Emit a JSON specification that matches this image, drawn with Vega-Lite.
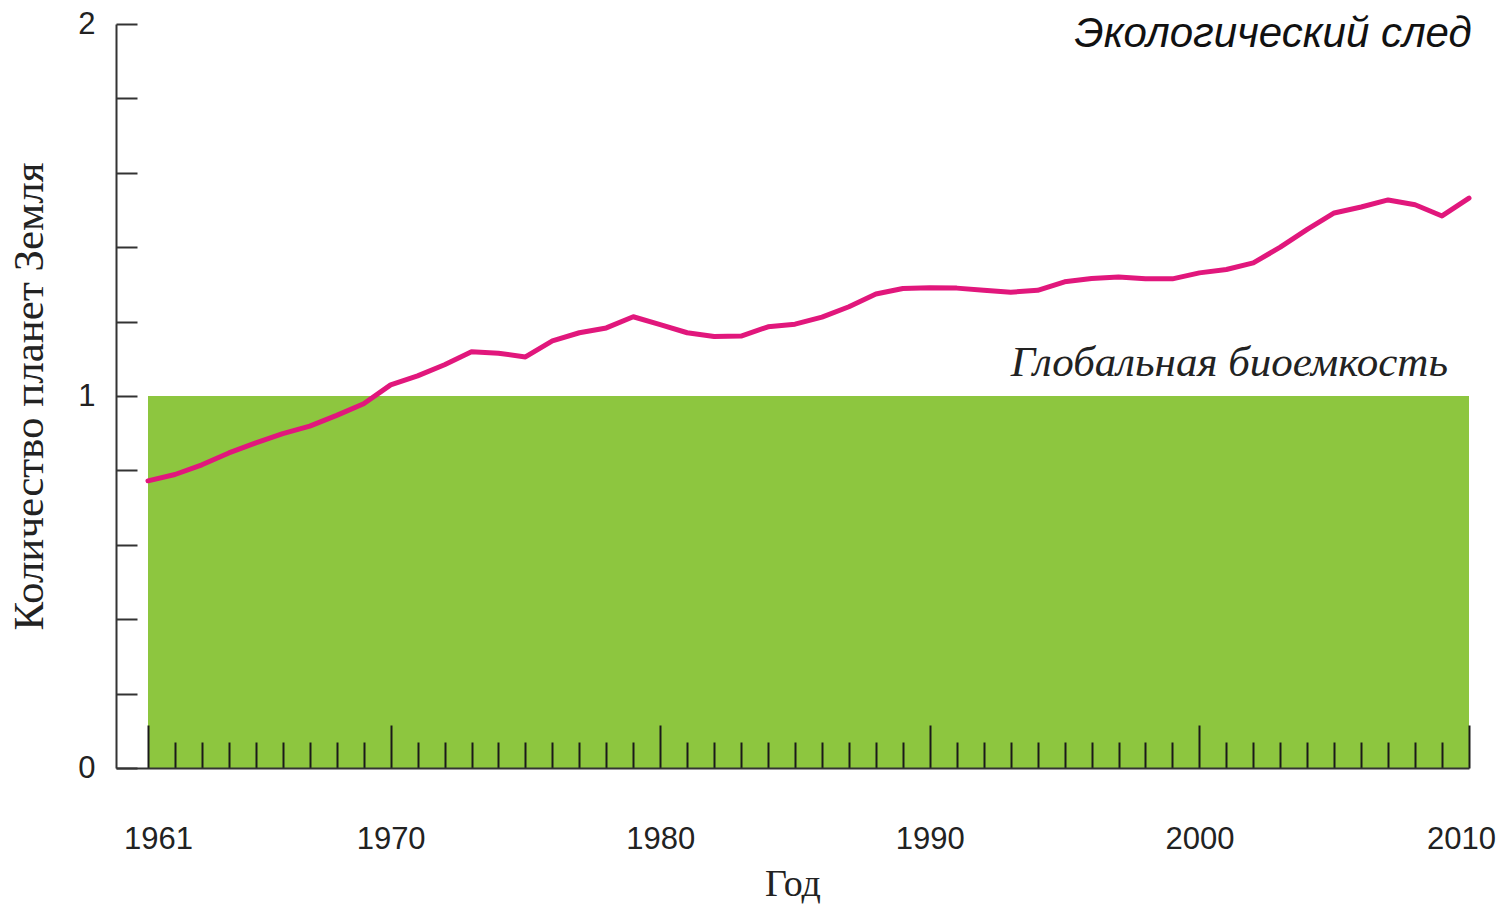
{
  "$schema": "https://vega.github.io/schema/vega-lite/v6.json",
  "width": 1353,
  "height": 744,
  "autosize": {"type": "none"},
  "padding": {"left": 116, "top": 24, "right": 38, "bottom": 136},
  "background": "white",
  "config": {"view": {"stroke": null}},
  "datasets": {
    "footprint": [
      {"year": 1961, "planets": 0.772}, {"year": 1962, "planets": 0.789}, {"year": 1963, "planets": 0.815},
      {"year": 1964, "planets": 0.847}, {"year": 1965, "planets": 0.874}, {"year": 1966, "planets": 0.899},
      {"year": 1967, "planets": 0.919}, {"year": 1968, "planets": 0.948}, {"year": 1969, "planets": 0.979},
      {"year": 1970, "planets": 1.030}, {"year": 1971, "planets": 1.054}, {"year": 1972, "planets": 1.084},
      {"year": 1973, "planets": 1.119}, {"year": 1974, "planets": 1.115}, {"year": 1975, "planets": 1.105},
      {"year": 1976, "planets": 1.148}, {"year": 1977, "planets": 1.170}, {"year": 1978, "planets": 1.183},
      {"year": 1979, "planets": 1.213}, {"year": 1980, "planets": 1.192}, {"year": 1981, "planets": 1.170},
      {"year": 1982, "planets": 1.160}, {"year": 1983, "planets": 1.161}, {"year": 1984, "planets": 1.186},
      {"year": 1985, "planets": 1.193}, {"year": 1986, "planets": 1.212}, {"year": 1987, "planets": 1.240},
      {"year": 1988, "planets": 1.274}, {"year": 1989, "planets": 1.289}, {"year": 1990, "planets": 1.291},
      {"year": 1991, "planets": 1.290}, {"year": 1992, "planets": 1.284}, {"year": 1993, "planets": 1.279},
      {"year": 1994, "planets": 1.284}, {"year": 1995, "planets": 1.307}, {"year": 1996, "planets": 1.316},
      {"year": 1997, "planets": 1.320}, {"year": 1998, "planets": 1.315}, {"year": 1999, "planets": 1.315},
      {"year": 2000, "planets": 1.331}, {"year": 2001, "planets": 1.340}, {"year": 2002, "planets": 1.358},
      {"year": 2003, "planets": 1.400}, {"year": 2004, "planets": 1.448}, {"year": 2005, "planets": 1.492},
      {"year": 2006, "planets": 1.508}, {"year": 2007, "planets": 1.527}, {"year": 2008, "planets": 1.514},
      {"year": 2009, "planets": 1.484}, {"year": 2010, "planets": 1.532}
    ],
    "biocapacity": [{"start": 1961, "end": 2010, "planets": 1}],
    "annotation": [{}]
  },
  "layer": [
    {
      "data": {"name": "biocapacity"},
      "mark": {"type": "rect", "color": "#8dc63f"},
      "encoding": {
        "x": {
          "field": "start",
          "type": "quantitative",
          "scale": {"domain": [1959.813, 2010], "nice": false, "zero": false},
          "axis": {
            "values": [1961,1962,1963,1964,1965,1966,1967,1968,1969,1970,1971,1972,1973,1974,1975,1976,1977,1978,1979,1980,1981,1982,1983,1984,1985,1986,1987,1988,1989,1990,1991,1992,1993,1994,1995,1996,1997,1998,1999,2000,2001,2002,2003,2004,2005,2006,2007,2008,2009,2010],
            "tickCount": 100,
            "format": "d",
            "labelExpr": "(datum.value % 10 === 0 || datum.value === 1961) ? datum.label : ''",
            "labelOverlap": false,
            "labelFlush": false,
            "labelBound": false,
            "labelFont": "Liberation Sans",
            "labelFontSize": 31,
            "labelColor": "#222",
            "labelPadding": 99,
            "labelOffset": {"condition": [{"test": "datum.value === 1961", "value": 10}, {"test": "datum.value === 2010", "value": -8}], "value": 0},
            "tickSize": {"condition": {"test": "datum.value % 10 === 0 || datum.value === 1961", "value": -43}, "value": -26},
            "tickColor": "#1a1a1a",
            "tickWidth": 2,
            "domainColor": "#333",
            "domainWidth": 2,
            "grid": false,
            "zindex": 1,
            "title": "Год",
            "titleFont": "Liberation Serif",
            "titleFontSize": 38,
            "titleFontWeight": "normal",
            "titleColor": "#222",
            "titlePadding": -6
          }
        },
        "x2": {"field": "end"},
        "y": {
          "field": "planets",
          "type": "quantitative",
          "scale": {"domain": [0, 2], "nice": false},
          "axis": {
            "values": [0, 0.2, 0.4, 0.6, 0.8, 1, 1.2, 1.4, 1.6, 1.8, 2],
            "tickCount": 100,
            "labelExpr": "(datum.value === 0 || datum.value === 1 || datum.value === 2) ? ('' + datum.value) : ''",
            "labelOverlap": false,
            "labelFlush": false,
            "labelBound": false,
            "labelFont": "Liberation Sans",
            "labelFontSize": 31,
            "labelColor": "#222",
            "labelPadding": 42,
            "tickSize": -21,
            "tickColor": "#333",
            "tickWidth": 2,
            "domainColor": "#333",
            "domainWidth": 2,
            "grid": false,
            "zindex": 1,
            "title": "Количество планет Земля",
            "titleFont": "Liberation Serif",
            "titleFontSize": 43,
            "titleFontWeight": "normal",
            "titleColor": "#222",
            "titlePadding": 26
          }
        },
        "y2": {"datum": 0}
      }
    },
    {
      "data": {"name": "footprint"},
      "mark": {"type": "line", "color": "#e1177c", "strokeWidth": 5, "strokeJoin": "round", "strokeCap": "round"},
      "encoding": {
        "x": {"field": "year", "type": "quantitative"},
        "y": {"field": "planets", "type": "quantitative"}
      }
    },
    {
      "data": {"name": "annotation"},
      "mark": {"type": "text", "text": "Экологический след", "font": "Liberation Sans", "fontStyle": "italic", "fontSize": 42, "align": "right", "baseline": "middle", "color": "#111"},
      "encoding": {
        "x": {"datum": 2010.1, "type": "quantitative"},
        "y": {"datum": 1.972, "type": "quantitative"}
      }
    },
    {
      "data": {"name": "annotation"},
      "mark": {"type": "text", "text": "Глобальная биоемкость", "font": "Liberation Serif", "fontStyle": "italic", "fontSize": 43, "align": "right", "baseline": "alphabetic", "color": "#222"},
      "encoding": {
        "x": {"datum": 2009.22, "type": "quantitative"},
        "y": {"datum": 1.054, "type": "quantitative"}
      }
    }
  ]
}
